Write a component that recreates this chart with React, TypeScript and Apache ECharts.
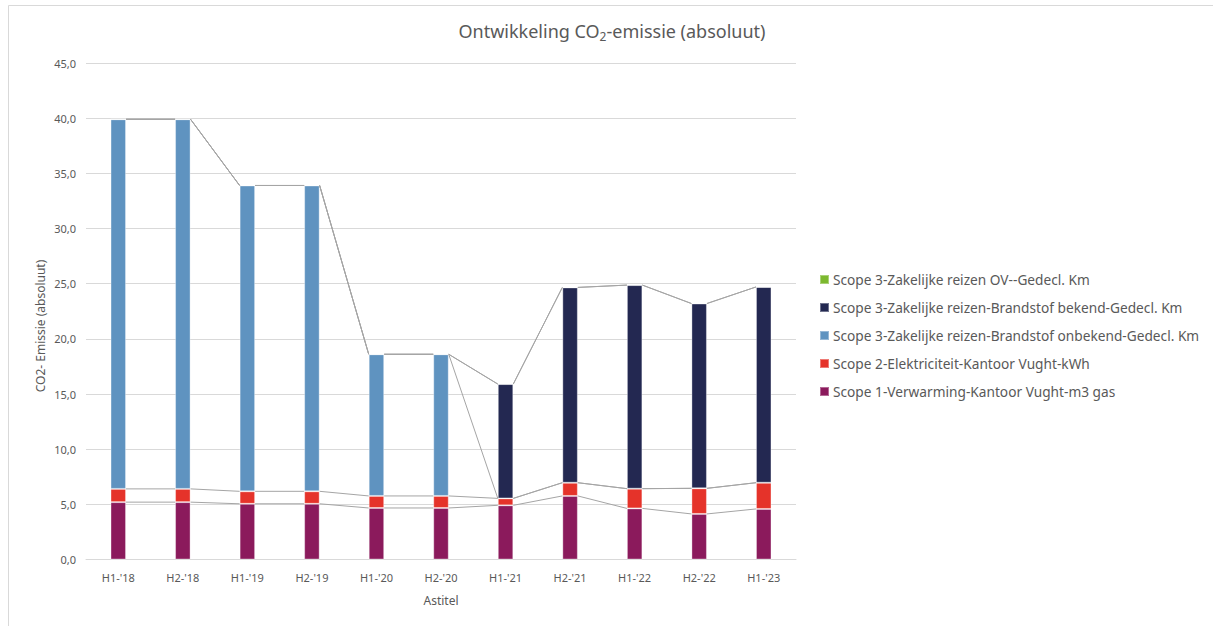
import React, { useEffect, useRef } from 'react';
import * as echarts from 'echarts';

const categories = ["H1-'18", "H2-'18", "H1-'19", "H2-'19", "H1-'20", "H2-'20", "H1-'21", "H2-'21", "H1-'22", "H2-'22", "H1-'23"];
const seriesNames = [
  'Scope 1-Verwarming-Kantoor Vught-m3 gas',
  'Scope 2-Elektriciteit-Kantoor Vught-kWh',
  'Scope 3-Zakelijke reizen-Brandstof onbekend-Gedecl. Km',
  'Scope 3-Zakelijke reizen-Brandstof bekend-Gedecl. Km',
  'Scope 3-Zakelijke reizen OV--Gedecl. Km',
];
const scope1Gas = [5.2, 5.2, 5.05, 5.05, 4.67, 4.67, 4.91, 5.76, 4.63, 4.13, 4.58];
const scope2Elec = [1.2, 1.2, 1.13, 1.13, 1.09, 1.09, 0.63, 1.2, 1.79, 2.32, 2.38];
const scope3Onbekend = [33.5, 33.5, 27.72, 27.72, 12.84, 12.84, 0, 0, 0, 0, 0];
const scope3Bekend = [0, 0, 0, 0, 0, 0, 10.36, 17.7, 18.45, 16.75, 17.74];
const scope3OV = [0, 0, 0, 0, 0, 0, 0, 0, 0, 0, 0];
const colors = ['#8B1A5C', '#E5332A', '#5F93C0', '#232851', '#7CB82F'];
const yTicks = { min: 0, max: 45, interval: 5 };

const FONT = 'Noto Sans';
const TXT = '#595959';

export default function App() {
  const ref = useRef<HTMLDivElement>(null);
  useEffect(() => {
    if (!ref.current) return;
    const chart = echarts.init(ref.current, null, { renderer: 'svg' });
    const stacks = [scope1Gas, scope2Elec, scope3Onbekend, scope3Bekend, scope3OV];
    const cum: number[][] = [];
    let running = categories.map(() => 0);
    stacks.forEach((s) => {
      running = running.map((r, i) => r + s[i]);
      cum.push(running.slice());
    });
    const barSeries = stacks.map((s, k) => ({
      name: seriesNames[k],
      type: 'bar',
      stack: 'total',
      barWidth: '24%',
      data: s,
      itemStyle: { color: colors[k], borderColor: 'rgba(255,255,255,0.35)', borderWidth: 1 },
      emphasis: { disabled: true },
    }));
    const lineIdx = categories.slice(0, -1).map((_, i) => [i, 0]);
    const option = {
      animation: false,
      textStyle: { fontFamily: FONT },
      title: {
        text: 'Ontwikkeling CO{sub|2}-emissie (absoluut)',
        left: 607,
        textAlign: 'center',
        top: 14,
        textStyle: {
          fontFamily: FONT,
          fontSize: 18,
          fontWeight: 'normal',
          color: TXT,
          rich: {
            sub: { fontFamily: FONT, fontSize: 12, color: TXT, padding: [11, 0, 0, 0] },
          },
        },
      },
      legend: {
        orient: 'vertical',
        left: 814,
        top: 266,
        itemWidth: 9,
        itemHeight: 9,
        itemGap: 11,
        icon: 'rect',
        data: seriesNames.slice().reverse(),
        textStyle: { fontFamily: FONT, fontSize: 13.7, color: TXT, lineHeight: 17, padding: [0, 0, 0, -1] },
      },
      grid: { left: 86, right: 417, top: 63, bottom: 66.5, containLabel: false },
      xAxis: {
        type: 'category',
        data: categories,
        axisLine: { lineStyle: { color: '#d9d9d9' } },
        axisTick: { show: false },
        axisLabel: { color: TXT, fontFamily: FONT, fontSize: 11, margin: 12 },
        name: 'Astitel',
        nameLocation: 'middle',
        nameGap: 35,
        nameTextStyle: { color: TXT, fontFamily: FONT, fontSize: 12 },
      },
      yAxis: {
        type: 'value',
        min: yTicks.min,
        max: yTicks.max,
        interval: yTicks.interval,
        axisLine: { show: false },
        axisTick: { show: false },
        splitLine: { lineStyle: { color: '#d9d9d9' } },
        axisLabel: {
          color: TXT,
          fontFamily: FONT,
          fontSize: 11,
          margin: 10,
          formatter: (v: number) => v.toFixed(1).replace('.', ','),
        },
      },
      graphic: [
        {
          type: 'rect',
          shape: { x: 8.5, y: 5.5, width: 1400, height: 800 },
          style: { fill: 'none', stroke: '#d9d9d9', lineWidth: 1 },
          silent: true,
        },
        {
          type: 'text',
          x: 40,
          y: 326,
          rotation: Math.PI / 2,
          style: {
            text: 'CO2- Emissie (absoluut)',
            fill: TXT,
            font: `12px "${FONT}"`,
            textAlign: 'center',
            textVerticalAlign: 'middle',
          },
          silent: true,
        },
      ],
      series: [
        ...barSeries,
        {
          type: 'custom',
          name: 'serieslines',
          silent: true,
          z: 5,
          data: lineIdx,
          encode: { x: 0, y: 1 },
          renderItem: (params: any, api: any) => {
            const i = api.value(0);
            const children: any[] = [];
            const p0 = api.coord([i, 0]);
            const p1 = api.coord([i + 1, 0]);
            const half = (p1[0] - p0[0]) * 0.12;
            cum.forEach((c) => {
              const a = api.coord([i, c[i]]);
              const b = api.coord([i + 1, c[i + 1]]);
              children.push({
                type: 'line',
                shape: { x1: a[0] + half, y1: a[1], x2: b[0] - half, y2: b[1] },
                style: { stroke: '#a5a5a5', lineWidth: 1 },
              });
            });
            return { type: 'group', children };
          },
        },
      ],
    };
    chart.setOption(option as any);
    return () => chart.dispose();
  }, []);
  return <div ref={ref} style={{ position: 'absolute', left: 0, top: 0, width: 1213, height: 626 }} />;
}
